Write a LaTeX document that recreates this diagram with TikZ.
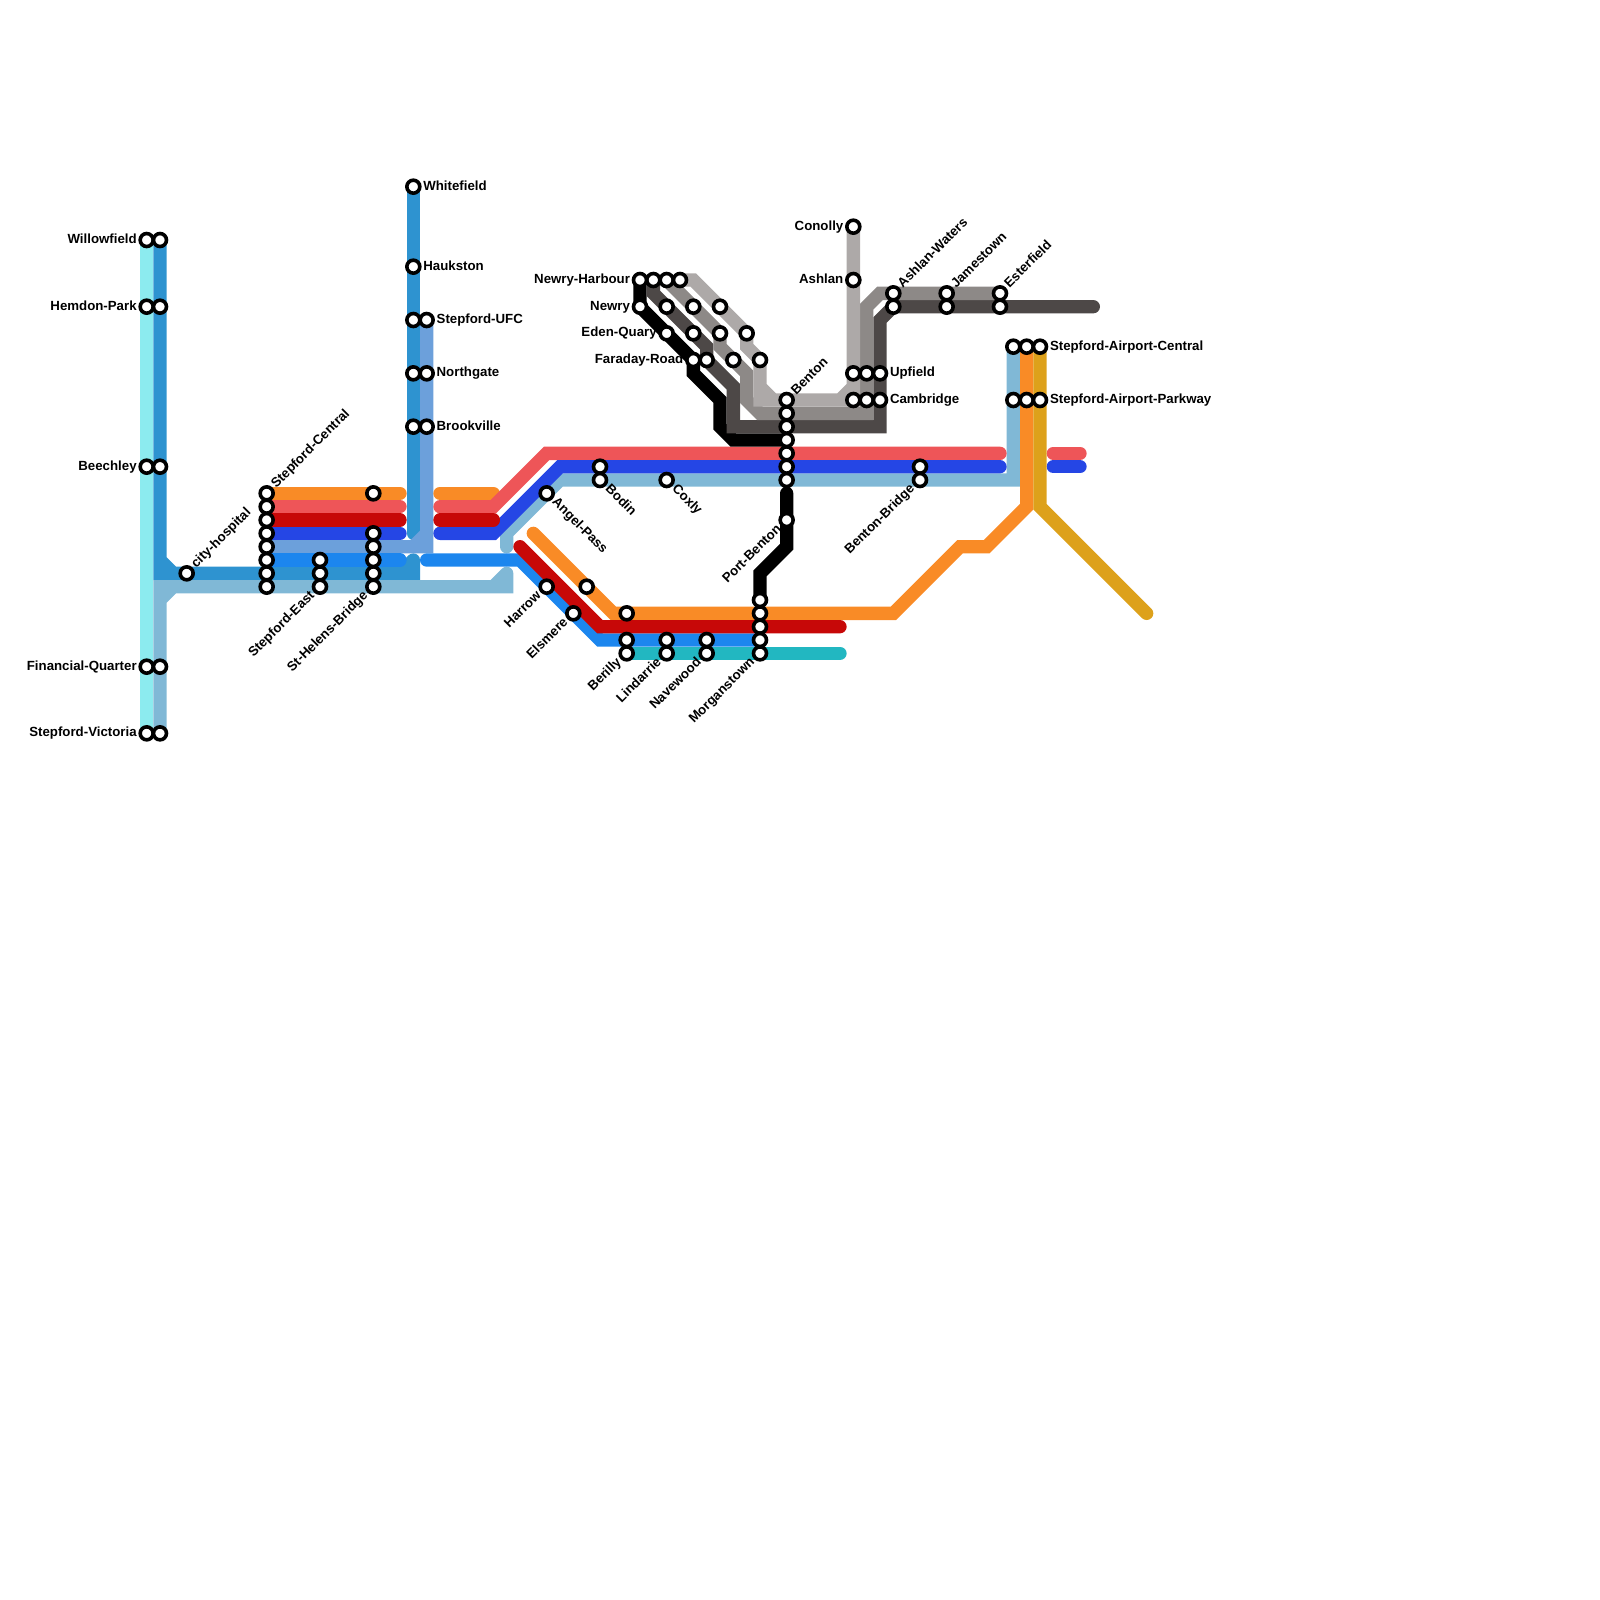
\documentclass[tikz,border=0pt]{standalone}
\usepackage{fontspec}
\setmainfont{Liberation Sans}
\usepackage{xcolor}
\usepackage{tikz}
\usetikzlibrary{backgrounds}
\definecolor{cAqua}{HTML}{8CEBEF}
\definecolor{cBlue}{HTML}{2E93D0}
\definecolor{cSteel}{HTML}{6CA0DB}
\definecolor{cSky}{HTML}{80B8D6}
\definecolor{cOrange}{HTML}{F98B26}
\definecolor{cCoral}{HTML}{EE5558}
\definecolor{cRed}{HTML}{C70808}
\definecolor{cCobalt}{HTML}{2546E5}
\definecolor{cAzure}{HTML}{1C86EE}
\definecolor{cTeal}{HTML}{22B7C1}
\definecolor{cGold}{HTML}{DDA11B}
\definecolor{cDark}{HTML}{4D4847}
\definecolor{cMedium}{HTML}{8D8987}
\definecolor{cLight}{HTML}{ADA9A8}

\begin{document}
\begin{tikzpicture}[
  x=1mm, y=-1mm,
  every node/.style={font=\fontsize{2.83}{3.4}\selectfont\bfseries, inner sep=0pt, text height=2.1pt, text depth=0.68pt},
  stn/.style={draw=black, fill=white, circle, line width=0.27mm, minimum size=0.88mm},
  ln/.style={line width=1mm, line cap=round, line join=miter, miter limit=1.5},
  lbR/.style={anchor=west, xshift=0.68mm},
  lbL/.style={anchor=east, xshift=-0.68mm},
  lbUp/.style={anchor=west, rotate=45, shift={(0.7mm,0mm)}},
  lbDown/.style={anchor=west, rotate=-45, shift={(0.7mm,0mm)}},
  lbBack/.style={anchor=east, rotate=45, shift={(-0.7mm,0mm)}}
]
\useasboundingbox (0,0) rectangle (120,120);

% West stations
\node[stn] (sWillowA) at (11,18) {};
\node[stn] (sWillowB) at (12,18) {};
\node[stn] (sHemdonA) at (11,23) {};
\node[stn] (sHemdonB) at (12,23) {};
\node[stn] (sBeechleyA) at (11,35) {};
\node[stn] (sBeechleyB) at (12,35) {};
\node[stn] (sFinancialA) at (11,50) {};
\node[stn] (sFinancialB) at (12,50) {};
\node[stn] (sVictoriaA) at (11,55) {};
\node[stn] (sVictoriaB) at (12,55) {};
\node[stn] (sHospital) at (14,43) {};
\node[stn] (sCentralA) at (20,37) {};
\node[stn] (sCentralB) at (20,38) {};
\node[stn] (sCentralC) at (20,39) {};
\node[stn] (sCentralD) at (20,40) {};
\node[stn] (sCentralE) at (20,41) {};
\node[stn] (sCentralF) at (20,42) {};
\node[stn] (sCentralG) at (20,43) {};
\node[stn] (sCentralH) at (20,44) {};
\node[stn] (sEastA) at (24,42) {};
\node[stn] (sEastB) at (24,43) {};
\node[stn] (sEastC) at (24,44) {};
\node[stn] (sHelensA) at (28,37) {};
\node[stn] (sHelensB) at (28,40) {};
\node[stn] (sHelensC) at (28,41) {};
\node[stn] (sHelensD) at (28,42) {};
\node[stn] (sHelensE) at (28,43) {};
\node[stn] (sHelensF) at (28,44) {};
\node[stn] (sWhitefield) at (31,14) {};
\node[stn] (sHaukston) at (31,20) {};
\node[stn] (sUfcA) at (31,24) {};
\node[stn] (sUfcB) at (32,24) {};
\node[stn] (sNorthA) at (31,28) {};
\node[stn] (sNorthB) at (32,28) {};
\node[stn] (sBrookA) at (31,32) {};
\node[stn] (sBrookB) at (32,32) {};

% Middle stations
\node[stn] (sAngel) at (41,37) {};
\node[stn] (sBodinA) at (45,35) {};
\node[stn] (sBodinB) at (45,36) {};
\node[stn] (sCoxly) at (50,36) {};
\node[stn] (sHarrow) at (41,44) {};
\node[stn] (sElsmere) at (43,46) {};
\node[stn] (sDiag) at (44,44) {};
\node[stn] (sBerillyA) at (47,46) {};
\node[stn] (sBerillyB) at (47,48) {};
\node[stn] (sBerillyC) at (47,49) {};
\node[stn] (sLindarrieA) at (50,48) {};
\node[stn] (sLindarrieB) at (50,49) {};
\node[stn] (sNavewoodA) at (53,48) {};
\node[stn] (sNavewoodB) at (53,49) {};
\node[stn] (sMorganA) at (57,45) {};
\node[stn] (sMorganB) at (57,46) {};
\node[stn] (sMorganC) at (57,47) {};
\node[stn] (sMorganD) at (57,48) {};
\node[stn] (sMorganE) at (57,49) {};
\node[stn] (sPort) at (59,39) {};
\node[stn] (sBentonA) at (59,30) {};
\node[stn] (sBentonB) at (59,31) {};
\node[stn] (sBentonC) at (59,32) {};
\node[stn] (sBentonD) at (59,33) {};
\node[stn] (sBentonE) at (59,34) {};
\node[stn] (sBentonF) at (59,35) {};
\node[stn] (sBentonG) at (59,36) {};

% North stations
\node[stn] (sHarbourA) at (48,21) {};
\node[stn] (sHarbourB) at (49,21) {};
\node[stn] (sHarbourC) at (50,21) {};
\node[stn] (sHarbourD) at (51,21) {};
\node[stn] (sNewryA) at (48,23) {};
\node[stn] (sNewryB) at (50,23) {};
\node[stn] (sNewryC) at (52,23) {};
\node[stn] (sNewryD) at (54,23) {};
\node[stn] (sEdenA) at (50,25) {};
\node[stn] (sEdenB) at (52,25) {};
\node[stn] (sEdenC) at (54,25) {};
\node[stn] (sEdenD) at (56,25) {};
\node[stn] (sFaradayA) at (52,27) {};
\node[stn] (sFaradayB) at (53,27) {};
\node[stn] (sFaradayC) at (55,27) {};
\node[stn] (sFaradayD) at (57,27) {};

% East stations
\node[stn] (sConolly) at (64,17) {};
\node[stn] (sAshlan) at (64,21) {};
\node[stn] (sUpfieldA) at (64,28) {};
\node[stn] (sUpfieldB) at (65,28) {};
\node[stn] (sUpfieldC) at (66,28) {};
\node[stn] (sCambridgeA) at (64,30) {};
\node[stn] (sCambridgeB) at (65,30) {};
\node[stn] (sCambridgeC) at (66,30) {};
\node[stn] (sWatersA) at (67,22) {};
\node[stn] (sWatersB) at (67,23) {};
\node[stn] (sJamesA) at (71,22) {};
\node[stn] (sJamesB) at (71,23) {};
\node[stn] (sEsterA) at (75,22) {};
\node[stn] (sEsterB) at (75,23) {};
\node[stn] (sBridgeA) at (69,35) {};
\node[stn] (sBridgeB) at (69,36) {};
\node[stn] (sAirportA) at (76,26) {};
\node[stn] (sAirportB) at (77,26) {};
\node[stn] (sAirportC) at (78,26) {};
\node[stn] (sParkA) at (76,30) {};
\node[stn] (sParkB) at (77,30) {};
\node[stn] (sParkC) at (78,30) {};

% Line ends
\coordinate (cBlueFoot) at (30,43);
\coordinate (cBlueTop) at (31,42);
\coordinate (cWhiteEnd) at (31,40);
\coordinate (cSkyA) at (38,41);
\coordinate (cSkyB) at (38,43);
\coordinate (cOrangeA) at (30,37);
\coordinate (cOrangeB) at (33,37);
\coordinate (cOrangeC) at (37,37);
\coordinate (cOrangeD) at (40,40);
\coordinate (cCoralA) at (30,38);
\coordinate (cCoralB) at (33,38);
\coordinate (cCoralC) at (75,34);
\coordinate (cCoralD) at (79,34);
\coordinate (cCoralE) at (81,34);
\coordinate (cRedA) at (30,39);
\coordinate (cRedB) at (33,39);
\coordinate (cRedC) at (37,39);
\coordinate (cRedD) at (39,41);
\coordinate (cRedE) at (63,47);
\coordinate (cCobaltA) at (30,40);
\coordinate (cCobaltB) at (33,40);
\coordinate (cCobaltC) at (75,35);
\coordinate (cCobaltD) at (79,35);
\coordinate (cCobaltE) at (81,35);
\coordinate (cAzureA) at (30,42);
\coordinate (cAzureB) at (32,42);
\coordinate (cTealEnd) at (63,49);
\coordinate (cGoldEnd) at (86,46);
\coordinate (cPortTop) at (59,37);
\coordinate (cDarkEnd) at (82,23);

% Lines
\begin{scope}[on background layer]
\draw[ln, cAqua] (sWillowA.center) -- (sVictoriaA.center);
\draw[ln, cBlue] (sWillowB.center) -- (12,42) -- (13,43) -- (12,43) -- (12,42) -- (12,43) -- (cBlueFoot) -- (31,43) -- (cBlueTop) -- (cBlueFoot) -- (cBlueTop);
\draw[ln, cBlue] (sWhitefield.center) -- (cWhiteEnd);
\draw[ln, cSteel] (sUfcB.center) -- (32,40) -- (31,41) -- (32,41) -- (32,40) -- (32,41) -- (sCentralE.center);
\draw[ln, cSky] (sAirportA.center) -- (76,36) -- (42,36) -- (38,40) -- (cSkyA);
\draw[ln, cSky] (cSkyB) -- (38,44) -- (37,44) -- (cSkyB) -- (37,44) -- (12,44) -- (12,45) -- (13,44) -- (12,45) -- (sVictoriaB.center);
\draw[ln, cOrange] (sCentralA.center) -- (cOrangeA);
\draw[ln, cOrange] (cOrangeB) -- (cOrangeC);
\draw[ln, cOrange] (cOrangeD) -- (46,46) -- (67,46) -- (72,41) -- (74,41) -- (77,38) -- (sAirportB.center);
\draw[ln, cCoral] (sCentralB.center) -- (cCoralA);
\draw[ln, cCoral] (cCoralB) -- (37,38) -- (41,34) -- (cCoralC);
\draw[ln, cCoral] (cCoralD) -- (cCoralE);
\draw[ln, cCobalt] (sCentralD.center) -- (cCobaltA);
\draw[ln, cCobalt] (cCobaltB) -- (37,40) -- (42,35) -- (cCobaltC);
\draw[ln, cCobalt] (cCobaltD) -- (cCobaltE);
\draw[ln, cAzure] (sCentralF.center) -- (cAzureA);
\draw[ln, cAzure] (cAzureB) -- (39,42) -- (45,48) -- (sMorganD.center);
\draw[ln, cRed] (sCentralC.center) -- (cRedA);
\draw[ln, cRed] (cRedB) -- (cRedC);
\draw[ln, cRed] (cRedD) -- (45,47) -- (cRedE);
\draw[ln, cTeal] (sBerillyC.center) -- (cTealEnd);
\draw[ln, cGold] (sAirportC.center) -- (78,38) -- (cGoldEnd);
\draw[ln, black] (sHarbourA.center) -- (sNewryA.center) -- (sFaradayA.center) -- (52,28) -- (54,30) -- (54,32) -- (55,33) -- (sBentonD.center);
\draw[ln, black] (cPortTop) -- (sPort.center) -- (59,41) -- (57,43) -- (sMorganA.center);
\draw[ln, cDark] (sHarbourB.center) -- (49,22) -- (53,26) -- (sFaradayB.center) -- (55,29) -- (55,32) -- (66,32) -- (66,24) -- (67,23) -- (cDarkEnd);
\draw[ln, cMedium] (sHarbourC.center) -- (sEdenC.center) -- (54,26) -- (sFaradayC.center) -- (56,28) -- (56,30) -- (57,31) -- (65,31) -- (65,23) -- (66,22) -- (sEsterA.center);
\draw[ln, cLight] (sConolly.center) -- (64,30) -- (63,30) -- (64,29) -- (63,30) -- (58,30) -- (57,30) -- (57,29) -- (58,30) -- (57,29) -- (sFaradayD.center) -- (56,26) -- (sEdenD.center) -- (52,21) -- (sHarbourD.center);
\end{scope}

% Labels
\node[lbL] (tWillow) at (sWillowA) {Willowfield};
\node[lbL] (tHemdon) at (sHemdonA) {Hemdon-Park};
\node[lbL] (tBeechley) at (sBeechleyA) {Beechley};
\node[lbL] (tFinancial) at (sFinancialA) {Financial-Quarter};
\node[lbL] (tVictoria) at (sVictoriaA) {Stepford-Victoria};
\node[lbL] (tHarbour) at (sHarbourA) {Newry-Harbour};
\node[lbL] (tNewry) at (sNewryA) {Newry};
\node[lbL] (tEden) at (sEdenA) {Eden-Quary};
\node[lbL] (tFaraday) at (sFaradayA) {Faraday-Road};
\node[lbL] (tConolly) at (sConolly) {Conolly};
\node[lbL] (tAshlan) at (sAshlan) {Ashlan};
\node[lbR] (tWhitefield) at (sWhitefield) {Whitefield};
\node[lbR] (tHaukston) at (sHaukston) {Haukston};
\node[lbR] (tUfc) at (sUfcB) {Stepford-UFC};
\node[lbR] (tNorth) at (sNorthB) {Northgate};
\node[lbR] (tBrook) at (sBrookB) {Brookville};
\node[lbR] (tUpfield) at (sUpfieldC) {Upfield};
\node[lbR] (tCambridge) at (sCambridgeC) {Cambridge};
\node[lbR] (tAirport) at (sAirportC) {Stepford-Airport-Central};
\node[lbR] (tPark) at (sParkC) {Stepford-Airport-Parkway};
\node[lbUp] (tHospital) at (sHospital) {city-hospital};
\node[lbUp] (tCentral) at (sCentralA) {Stepford-Central};
\node[lbUp] (tBenton) at (sBentonA) {Benton};
\node[lbUp] (tWaters) at (sWatersA) {Ashlan-Waters};
\node[lbUp] (tJames) at (sJamesA) {Jamestown};
\node[lbUp] (tEster) at (sEsterA) {Esterfield};
\node[lbDown] (tAngel) at (sAngel) {Angel-Pass};
\node[lbDown] (tBodin) at (sBodinB) {Bodin};
\node[lbDown] (tCoxly) at (sCoxly) {Coxly};
\node[lbBack] (tEast) at (sEastC) {Stepford-East};
\node[lbBack] (tHelens) at (sHelensF) {St-Helens-Bridge};
\node[lbBack] (tHarrow) at (sHarrow) {Harrow};
\node[lbBack] (tElsmere) at (sElsmere) {Elsmere};
\node[lbBack] (tBerilly) at (sBerillyC) {Berilly};
\node[lbBack] (tLindarrie) at (sLindarrieB) {Lindarrie};
\node[lbBack] (tNavewood) at (sNavewoodB) {Navewood};
\node[lbBack] (tMorgan) at (sMorganE) {Morganstown};
\node[lbBack] (tPort) at (sPort) {Port-Benton};
\node[lbBack] (tBridge) at (sBridgeB) {Benton-Bridge};
\end{tikzpicture}
\end{document}
